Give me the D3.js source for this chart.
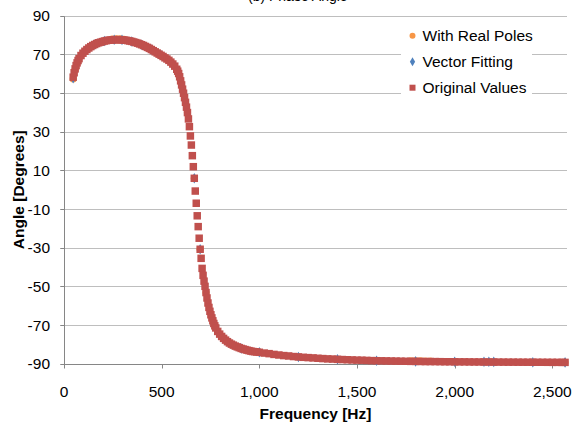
<!DOCTYPE html>
<html>
<head>
<meta charset="utf-8">
<script src="https://cdn.jsdelivr.net/npm/d3@7"></script>
<style>
  html, body { margin: 0; padding: 0; background: #fff; }
  svg { display: block; font-family: "Liberation Sans", Arial, sans-serif; }
</style>
</head>
<body>
<svg id="chart" width="574" height="423"></svg>
<script>
// ---------------- DATA ----------------
const chartTitle = "(b) Phase Angle";
const xTitle = "Frequency [Hz]";
const yTitle = "Angle [Degrees]";
const xTicks = [0, 500, 1000, 1500, 2000, 2500];
const yTicks = [-90, -70, -50, -30, -10, 10, 30, 50, 70, 90];
const seriesNames = ["With Real Poles", "Vector Fitting", "Original Values"];

// Original Values (red squares)
const origFreq = [
  47, 52, 57, 62, 67, 72, 77, 87, 97, 107, 117, 127, 137, 147, 157, 167, 177, 187, 197,
  207, 217, 227, 237, 247, 257, 267, 277, 287, 297, 307, 317, 327, 337, 347, 357, 367,
  377, 387, 397, 407, 417, 427, 437, 447, 457, 467, 477, 487, 497, 507, 517, 527, 537,
  547, 557, 567, 577, 582, 587, 592, 597, 602, 607, 612, 617, 622, 627, 632, 637, 642,
  647, 652, 657, 662, 667, 672, 677, 682, 687, 692, 697, 702, 707, 712, 717, 722, 727,
  732, 737, 742, 747, 752, 757, 762, 767, 772, 777, 787, 797, 807, 817, 827, 837, 847,
  857, 867, 877, 887, 897, 907, 917, 927, 937, 947, 957, 967, 977, 987,
  1000, 1025, 1050, 1075, 1100, 1125, 1150, 1175, 1200, 1225, 1250, 1275, 1300, 1325,
  1350, 1375, 1400, 1425, 1450, 1475, 1500, 1525, 1550, 1575, 1600, 1625, 1650, 1675,
  1700, 1725, 1750, 1775, 1800, 1825, 1850, 1875, 1900, 1925, 1950, 1975, 2000, 2025,
  2050, 2075, 2100, 2125, 2150, 2175, 2200, 2225, 2250, 2275, 2300, 2325, 2350, 2375,
  2400, 2425, 2450, 2475, 2500, 2525, 2550, 2565
];
const origAngle = [
  58.2, 60.5, 62.5, 64.2, 65.6, 66.8, 67.8, 69.4, 70.6, 71.6, 72.5, 73.3, 74.0, 74.6, 75.1, 75.6, 76.0, 76.3, 76.6,
  76.9, 77.1, 77.3, 77.4, 77.5, 77.6, 77.6, 77.6, 77.6, 77.5, 77.4, 77.3, 77.1, 76.9, 76.7, 76.4, 76.1,
  75.8, 75.4, 75.0, 74.6, 74.1, 73.6, 73.1, 72.5, 71.9, 71.3, 70.7, 70.1, 69.5, 68.9, 68.2, 67.6, 66.9,
  66.0, 65.0, 63.9, 62.3, 61.3, 60.1, 58.4, 56.3, 54.2, 52.0, 49.9, 47.6, 45.2, 42.7, 39.9, 36.6, 32.6,
  27.8, 23.1, 17.6, 11.9, 5.9, -0.7, -7.0, -13.5, -19.1, -25.1, -30.8, -35.5, -40.7, -44.3, -47.3, -50.0, -53.2,
  -56.0, -58.6, -60.9, -62.9, -64.7, -66.3, -67.8, -69.2, -70.4, -71.5, -73.3, -74.7, -75.9, -76.9, -77.8, -78.6, -79.3,
  -79.9, -80.4, -80.9, -81.3, -81.7, -82.1, -82.4, -82.7, -83.0, -83.25, -83.5, -83.7, -83.8, -83.95,
  -84.1, -84.5, -84.8, -85.2, -85.5, -85.8, -86.0, -86.3, -86.5, -86.7, -86.85, -87.0, -87.2, -87.35,
  -87.5, -87.6, -87.75, -87.85, -87.95, -88.05, -88.15, -88.2, -88.3, -88.4, -88.45, -88.5, -88.55, -88.6,
  -88.65, -88.7, -88.75, -88.8, -88.8, -88.85, -88.9, -88.9, -88.92, -88.95, -89.0, -89.0, -89.02, -89.05,
  -89.05, -89.08, -89.1, -89.1, -89.12, -89.13, -89.15, -89.17, -89.18, -89.2, -89.2, -89.22, -89.23, -89.24,
  -89.25, -89.26, -89.27, -89.28, -89.29, -89.3, -89.31, -89.32
];

// Vector Fitting (blue diamonds) - mostly hidden under the original values
const vfFreq = [47, 57, 77, 107, 157, 207, 257, 297, 347, 397, 447, 497, 547, 597, 632, 667, 697, 727,
  767, 827, 907, 1000, 1200, 1400, 1600, 1800, 2000, 2150, 2175, 2200, 2400, 2565];
const vfAngle = [57.6, 62.4, 67.8, 71.6, 75.1, 76.9, 77.6, 77.5, 76.7, 75.0, 72.5, 69.5, 66.0, 56.3, 39.9, 5.9, -30.8, -53.2,
  -69.2, -77.8, -82.1, -84.1, -86.5, -87.75, -88.45, -88.8, -89.02, -89.0, -89.0, -89.05, -89.25, -89.32];

// With Real Poles (orange circles) - mostly hidden under the original values
const rpFreq = [47, 57, 77, 107, 157, 207, 247, 267, 287, 307, 347, 397, 447, 497, 547, 597, 632, 667, 697,
  727, 767, 827, 907, 1000, 1200, 1400, 1600, 1775, 1800, 1825, 1850, 1875, 2000, 2200, 2400, 2565];
const rpAngle = [57.3, 62.3, 67.8, 71.6, 75.1, 77.0, 77.9, 78.0, 78.0, 77.8, 76.7, 75.0, 72.5, 69.5, 66.0, 56.3, 39.9, 5.9, -30.8,
  -53.2, -69.2, -77.8, -82.1, -84.1, -86.5, -87.75, -88.45, -88.5, -88.5, -88.55, -88.6, -88.6, -89.02, -89.15, -89.25, -89.32];

// ---------------- CHART ----------------
const svg = d3.select("#chart");
const x = d3.scaleLinear().domain([0, 2575]).range([64, 567]);
const y = d3.scaleLinear().domain([-90, 90]).range([363.7, 15.7]);
const crisp = v => Math.round(v) + 0.5;

const colors = { rp: "#F79646", vf: "#4F81BD", orig: "#C0504D" };
const fontSize = 15.5;

// gridlines
svg.append("g").selectAll("line").data(yTicks.filter(d => d !== -90)).join("line")
  .attr("x1", 60).attr("x2", x.range()[1])
  .attr("y1", d => crisp(y(d))).attr("y2", d => crisp(y(d)))
  .attr("stroke", "#BEBEBE").attr("stroke-width", 1);

// y axis line + ticks
const axisColor = "#868686";
svg.append("line").attr("x1", crisp(x(0))).attr("x2", crisp(x(0)))
  .attr("y1", crisp(y(90))).attr("y2", crisp(y(-90))).attr("stroke", axisColor);
svg.append("g").selectAll("line").data(yTicks).join("line")
  .attr("x1", crisp(x(0)) - 4).attr("x2", crisp(x(0)))
  .attr("y1", d => crisp(y(d))).attr("y2", d => crisp(y(d)))
  .attr("stroke", axisColor);
// x axis line + ticks
svg.append("line").attr("x1", crisp(x(0)) - 4).attr("x2", x.range()[1])
  .attr("y1", crisp(y(-90))).attr("y2", crisp(y(-90))).attr("stroke", axisColor);
svg.append("g").selectAll("line").data(xTicks).join("line")
  .attr("x1", d => crisp(x(d))).attr("x2", d => crisp(x(d)))
  .attr("y1", crisp(y(-90))).attr("y2", crisp(y(-90)) + 4)
  .attr("stroke", axisColor);

// tick labels
svg.append("g").selectAll("text").data(yTicks).join("text")
  .attr("x", 50).attr("y", d => y(d)).attr("dy", "0.36em")
  .attr("text-anchor", "end").attr("font-size", fontSize).attr("fill", "#000")
  .text(d => d);
const fmt = d3.format(",");
svg.append("g").selectAll("text").data(xTicks).join("text")
  .attr("x", d => x(d)).attr("y", 397)
  .attr("text-anchor", "middle").attr("font-size", fontSize).attr("fill", "#000")
  .text(d => fmt(d));

// axis titles
svg.append("text").attr("x", (x.range()[0] + x.range()[1]) / 2).attr("y", 419)
  .attr("text-anchor", "middle").attr("font-size", fontSize).attr("font-weight", "bold")
  .text(xTitle);
svg.append("text").attr("transform", `translate(24,${(y(90) + y(-90)) / 2}) rotate(-90)`)
  .attr("text-anchor", "middle").attr("font-size", fontSize).attr("font-weight", "bold")
  .text(yTitle);

// chart title (mostly clipped at top, as in the reference)
svg.append("text").attr("x", 248).attr("y", 0.5)
  .attr("font-size", 14).attr("fill", "#000").text(chartTitle);

// series
function drawSeries(freqs, vals, type, size, color) {
  const sym = d3.symbol().type(type).size(size);
  svg.append("g").selectAll("path").data(freqs.map((f, i) => [f, vals[i]])).join("path")
    .attr("d", sym)
    .attr("transform", d => `translate(${x(d[0])},${y(d[1])})`)
    .attr("fill", color);
}
drawSeries(rpFreq, rpAngle, d3.symbolCircle, 40, colors.rp);
drawSeries(vfFreq, vfAngle, d3.symbolDiamond, 32, colors.vf);
drawSeries(origFreq, origAngle, d3.symbolSquare, 56, colors.orig);

// legend
const lg = svg.append("g");
lg.append("rect").attr("x", 401).attr("y", 20).attr("width", 131).attr("height", 80).attr("fill", "#fff");
const legendItems = [
  { name: seriesNames[0], type: d3.symbolCircle, size: 28, color: colors.rp, cy: 35.7 },
  { name: seriesNames[1], type: d3.symbolDiamond, size: 24, color: colors.vf, cy: 61.7 },
  { name: seriesNames[2], type: d3.symbolSquare, size: 36, color: colors.orig, cy: 87.7 }
];
legendItems.forEach(it => {
  lg.append("path").attr("d", d3.symbol().type(it.type).size(it.size)())
    .attr("transform", `translate(412.5,${it.cy})`).attr("fill", it.color);
  lg.append("text").attr("x", 422.5).attr("y", it.cy).attr("dy", "0.36em")
    .attr("font-size", fontSize).attr("fill", "#000").text(it.name);
});
</script>
</body>
</html>
